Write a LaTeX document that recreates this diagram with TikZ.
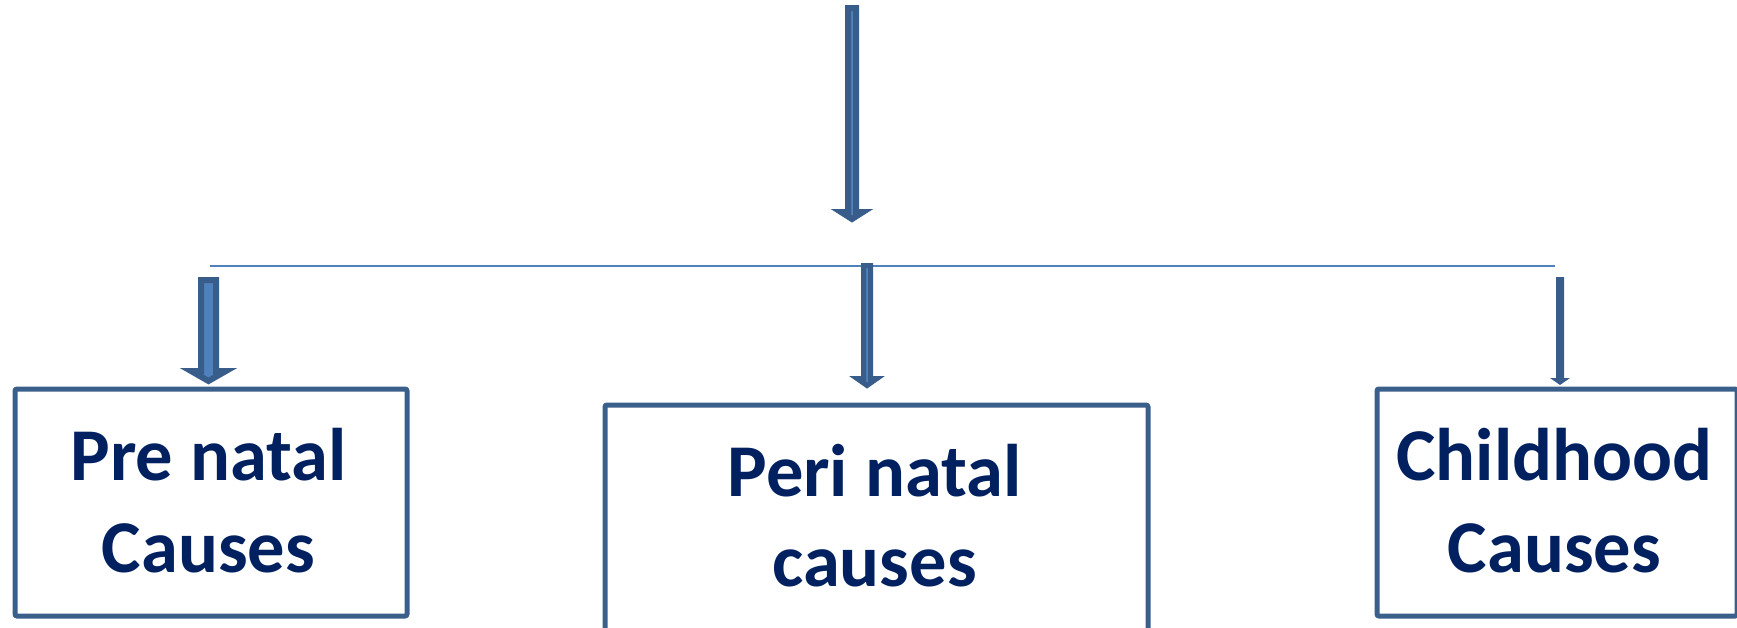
\documentclass[tikz,border=0pt]{standalone}
\usepackage{fontspec}
\setmainfont{Carlito}
\definecolor{boxline}{HTML}{3A5F8B}
\definecolor{arrowdark}{HTML}{385D8A}
\definecolor{arrowlight}{HTML}{4F81BD}
\definecolor{txt}{HTML}{002060}
\begin{document}
\begin{tikzpicture}[x=1pt,y=-1pt,
  boxframe/.style={draw=boxline,line width=5pt,rounded corners=2pt,inner sep=0pt},
  lbl/.style={anchor=base,text=txt,font=\fontsize{74.5}{92}\selectfont\bfseries,inner sep=0pt},
  blkarrow/.style={fill=arrowlight,draw=arrowdark,line join=miter}]
\useasboundingbox (0,0) rectangle (1737,627);
\clip (0,0) rectangle (1737,627);

% boxes
\node[boxframe,minimum width=392pt,minimum height=227pt,anchor=north west] (pre) at (12.5,386.5) {};
\node[boxframe,minimum width=543pt,minimum height=240pt,anchor=north west] (peri) at (602.5,402.5) {};
\node[boxframe,minimum width=360pt,minimum height=227pt,anchor=north west] (child) at (1374.5,386.5) {};

% labels
\node[lbl] (pre1) at (208.5,480) {Pre natal};
\node[lbl] (pre2) at (208.5,572) {Causes};
\node[lbl] (peri1) at (874.5,496) {Peri natal};
\node[lbl] (peri2) at (874.5,586) {causes};
\node[lbl] (ch1) at (1554.5,480) {Childhood};
\node[lbl] (ch2) at (1554.5,572) {Causes};

% horizontal bar
\coordinate (hl) at (210,266);
\coordinate (hr) at (1555,266);
\draw[arrowlight,line width=2pt] (hl) -- (hr);

% top block arrow
\draw[blkarrow,line width=6pt]
  (848,8) -- (856,8) -- (856,212) -- (863,212) -- (852,219) -- (841,212) -- (848,212) -- cycle;

% arrow to pre natal
\draw[blkarrow,line width=6pt]
  (201,280) -- (216,280) -- (216,371) -- (226,371) -- (208.5,381) -- (191,371) -- (201,371) -- cycle;

% arrow to peri natal
\draw[blkarrow,line width=5pt]
  (863.5,265.5) -- (870.5,265.5) -- (870.5,378.5) -- (877,378.5) -- (867,385.5) -- (857,378.5) -- (863.5,378.5) -- cycle;

% arrow to childhood
\fill[arrowdark]
  (1556,277) -- (1564,277) -- (1564,378) -- (1570,378) -- (1560,385) -- (1550,378) -- (1556,378) -- cycle;
\end{tikzpicture}
\end{document}
